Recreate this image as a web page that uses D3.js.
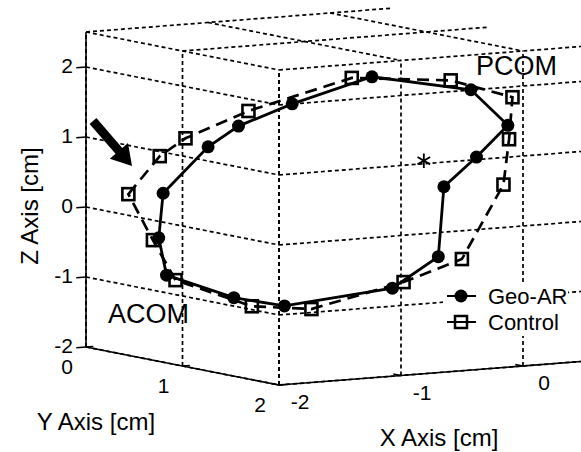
<!DOCTYPE html>
<html lang="en">
<head>
<meta charset="utf-8">
<title>Geo-AR vs Control 3D loop</title>
<script src="https://d3js.org/d3.v7.min.js"></script>
<style>
  body { margin: 0; background: #fff; }
  text { font-family: "Liberation Sans", Arial, sans-serif; fill: #000; }
</style>
</head>
<body>
<script>
// values (cm)
var geoX = [-1.70, -1.45, -1.28, -0.99, -0.55, 0.00, 0.20, 0.03, -0.15, -0.18, -0.43, -1.03, -1.31, -1.68, -1.72];
var geoY = [0.42, 0.57, 0.67, 0.86, 1.13, 1.46, 1.59, 1.48, 1.37, 1.35, 1.19, 0.83, 0.66, 0.43, 0.40];
var geoZ = [0.27, 0.94, 1.24, 1.57, 1.97, 1.80, 1.30, 0.84, 0.41, -0.59, -1.05, -1.32, -1.21, -0.90, -0.37];

var ctrlX = [-1.89, -1.72, -1.58, -1.23, -0.66, -0.11, 0.23, 0.21, 0.18, -0.05, -0.37, -0.88, -1.21, -1.63, -1.76];
var ctrlY = [0.30, 0.41, 0.50, 0.71, 1.06, 1.39, 1.60, 1.59, 1.57, 1.43, 1.23, 0.92, 0.72, 0.46, 0.39];
var ctrlZ = [0.25, 0.80, 1.06, 1.46, 1.95, 1.93, 1.70, 1.10, 0.45, -0.62, -0.96, -1.36, -1.33, -0.97, -0.40];

var centre = [-0.18, 1.2, 0.74];

var xTicks = [-2, -1, 0];
var yTicks = [0, 1, 2];
var zTicks = [-2, -1, 0, 1, 2];
var xLim = [-2, 0.5], yLim = [0, 2], zLim = [-2, 2.5];

var width = 581, height = 452;

var svg = d3.select("body").append("svg")
    .attr("width", width)
    .attr("height", height);

// oblique projection built from linear scales
var xH = d3.scaleLinear().domain([-2, 0]).range([0, 244]);
var xV = d3.scaleLinear().domain([-2, 0]).range([0, -19]);
var yH = d3.scaleLinear().domain([0, 2]).range([0, 193]);
var yV = d3.scaleLinear().domain([0, 2]).range([0, 38]);
var zV = d3.scaleLinear().domain([-2, 2]).range([347, 67]);

function proj(x, y, z) {
    return [86 + xH(x) + yH(y), zV(z) + xV(x) + yV(y)];
}

function seg(g, a, b) {
    var p = proj(a[0], a[1], a[2]), q = proj(b[0], b[1], b[2]);
    g.append("line")
        .attr("x1", p[0]).attr("y1", p[1])
        .attr("x2", q[0]).attr("y2", q[1]);
}

var grid = svg.append("g")
    .attr("stroke", "#000")
    .attr("stroke-width", 1.7)
    .attr("stroke-dasharray", "4,3");

// wall x = -2
yTicks.forEach(function(y) { seg(grid, [-2, y, zLim[0]], [-2, y, zLim[1]]); });
zTicks.forEach(function(z) { seg(grid, [-2, yLim[0], z], [-2, yLim[1], z]); });
// wall y = 2
xTicks.forEach(function(x) { seg(grid, [x, 2, zLim[0]], [x, 2, zLim[1]]); });
zTicks.forEach(function(z) { seg(grid, [xLim[0], 2, z], [xLim[1], 2, z]); });
// ceiling z = 2.5
yTicks.forEach(function(y) { seg(grid, [xLim[0], y, 2.5], [xLim[1], y, 2.5]); });
xTicks.forEach(function(x) { seg(grid, [x, yLim[0], 2.5], [x, yLim[1], 2.5]); });

// axis lines
var ax = svg.append("g").attr("stroke", "#000").attr("stroke-width", 1.6);
seg(ax, [-2, 0, zLim[0]], [-2, 0, zLim[1]]);
seg(ax, [-2, 0, -2], [-2, 2, -2]);
seg(ax, [-2, 2, -2], [xLim[1], 2, -2]);

zTicks.forEach(function(z) { seg(ax, [-2, 0, z], [-2.08, 0, z]); });
yTicks.forEach(function(y) { seg(ax, [-2, y, -2], [-1.94, y, -2]); });
xTicks.forEach(function(x) { seg(ax, [x, 2, -2], [x, 1.92, -2]); });

// tick labels
var lab = svg.append("g").attr("font-size", 21);
zTicks.forEach(function(z) {
    var p = proj(-2, 0, z);
    lab.append("text").attr("x", p[0] - 13).attr("y", p[1] - 1)
        .attr("dy", "0.35em").attr("text-anchor", "end").text(z);
});
yTicks.forEach(function(y) {
    var p = proj(-2, y, -2);
    lab.append("text").attr("x", p[0] - 19).attr("y", p[1] + 20)
        .attr("dy", "0.35em").attr("text-anchor", "middle").text(y);
});
xTicks.forEach(function(x) {
    var p = proj(x, 2, -2);
    lab.append("text").attr("x", p[0] + 21).attr("y", p[1] + 17)
        .attr("dy", "0.35em").attr("text-anchor", "middle").text(x);
});

// axis titles
svg.append("text").attr("x", 439).attr("y", 446).attr("font-size", 24)
    .attr("text-anchor", "middle").text("X Axis [cm]");
svg.append("text").attr("x", 96).attr("y", 430).attr("font-size", 24)
    .attr("text-anchor", "middle").text("Y Axis [cm]");
svg.append("text").attr("transform", "translate(38,206) rotate(-90)").attr("font-size", 24)
    .attr("text-anchor", "middle").text("Z Axis [cm]");

// series
var ctrlPts = ctrlX.map(function(x, i) { return proj(x, ctrlY[i], ctrlZ[i]); });
var geoPts = geoX.map(function(x, i) { return proj(x, geoY[i], geoZ[i]); });
var line = d3.line().curve(d3.curveLinearClosed);

svg.append("path").attr("d", line(ctrlPts))
    .attr("fill", "none").attr("stroke", "#000")
    .attr("stroke-width", 2.7).attr("stroke-dasharray", "12,7");
svg.selectAll(".ctrl").data(ctrlPts).enter().append("rect")
    .attr("class", "ctrl")
    .attr("x", function(d) { return d[0] - 6; })
    .attr("y", function(d) { return d[1] - 6; })
    .attr("width", 12).attr("height", 12)
    .attr("fill", "none").attr("stroke", "#000").attr("stroke-width", 2.6);

svg.append("path").attr("d", line(geoPts))
    .attr("fill", "none").attr("stroke", "#000").attr("stroke-width", 2.8);
svg.selectAll(".geo").data(geoPts).enter().append("circle")
    .attr("class", "geo")
    .attr("cx", function(d) { return d[0]; })
    .attr("cy", function(d) { return d[1]; })
    .attr("r", 6.5).attr("fill", "#000");

var c = proj(centre[0], centre[1], centre[2]);
svg.append("path")
    .attr("d", d3.symbol().type(d3.symbolAsterisk).size(150)())
    .attr("transform", "translate(" + c[0] + "," + c[1] + ")")
    .attr("fill", "none").attr("stroke", "#000").attr("stroke-width", 1.8);

// annotations
svg.append("text").attr("x", 108).attr("y", 323).attr("font-size", 27).text("ACOM");
svg.append("text").attr("x", 476).attr("y", 75).attr("font-size", 27).text("PCOM");

// arrow pointing at ACOM side
var a0 = [93, 121], a1 = [132, 166];
var dx = a1[0] - a0[0], dy = a1[1] - a0[1], len = Math.sqrt(dx * dx + dy * dy);
var ux = dx / len, uy = dy / len, nx = -uy, ny = ux;
var hl = 20, hw = 12, sw = 4.5;
var bx = a1[0] - ux * hl, by = a1[1] - uy * hl;
var arrowPts = [
    [a0[0] + nx * sw, a0[1] + ny * sw],
    [bx + nx * sw, by + ny * sw],
    [bx + nx * hw, by + ny * hw],
    a1,
    [bx - nx * hw, by - ny * hw],
    [bx - nx * sw, by - ny * sw],
    [a0[0] - nx * sw, a0[1] - ny * sw]
];
svg.append("polygon").attr("points", arrowPts.map(function(p) { return p.join(","); }).join(" "))
    .attr("fill", "#000");

// legend
var leg = svg.append("g");
leg.append("rect").attr("x", 443).attr("y", 283).attr("width", 125).attr("height", 53).attr("fill", "#fff");
var lg1 = leg.append("g").attr("transform", "translate(0,296)");
lg1.append("line").attr("x1", 447).attr("x2", 476).attr("stroke", "#000").attr("stroke-width", 2);
lg1.append("circle").attr("cx", 461).attr("r", 6.5).attr("fill", "#000");
lg1.append("text").attr("x", 488).attr("dy", "0.35em").attr("font-size", 22).text("Geo-AR");
var lg2 = leg.append("g").attr("transform", "translate(0,322)");
lg2.append("line").attr("x1", 447).attr("x2", 476).attr("stroke", "#000").attr("stroke-width", 2);
lg2.append("rect").attr("x", 455).attr("y", -6).attr("width", 12).attr("height", 12)
    .attr("fill", "none").attr("stroke", "#000").attr("stroke-width", 2.5);
lg2.append("text").attr("x", 488).attr("dy", "0.35em").attr("font-size", 22).text("Control");
</script>
</body>
</html>
